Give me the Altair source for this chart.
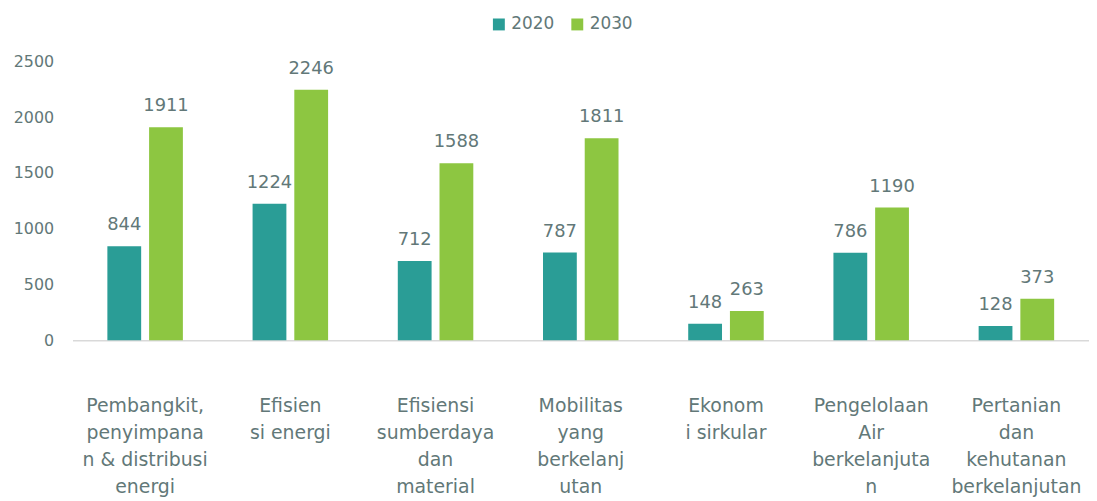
import altair as alt
import pandas as pd

categories = [
    "Pembangkit,|penyimpana|n & distribusi|energi",
    "Efisien|si energi",
    "Efisiensi|sumberdaya|dan|material",
    "Mobilitas|yang|berkelanj|utan",
    "Ekonom|i sirkular",
    "Pengelolaan|Air|berkelanjuta|n",
    "Pertanian|dan|kehutanan|berkelanjutan",
]
years = ["2020", "2030"]
values_2020 = [844, 1224, 712, 787, 148, 786, 128]
values_2030 = [1911, 2246, 1588, 1811, 263, 1190, 373]
colors = ["#2A9D96", "#8DC641"]

rows = []
for c, v1, v2 in zip(categories, values_2020, values_2030):
    rows.append({"cat": c, "year": "2020", "value": v1})
    rows.append({"cat": c, "year": "2030", "value": v2})
df = pd.DataFrame(rows)

TXT = "#627878"
FONT = "DejaVu Sans"

x = alt.X("cat:N", sort=categories, title=None,
          scale=alt.Scale(paddingInner=0.48, paddingOuter=0.24),
          axis=alt.Axis(labelExpr="split(datum.label, '|')", labelAngle=0,
                        labelFontSize=19, labelColor=TXT, labelFont=FONT,
                        labelLineHeight=27, labelPadding=57, labelBaseline="top",
                        ticks=False, domainColor="#D9D9D9", domainWidth=1.5,
                        labelLimit=200))
xo = alt.XOffset("year:N", sort=years,
                 scale=alt.Scale(paddingInner=0.19, paddingOuter=0))
y = alt.Y("value:Q", title=None,
          scale=alt.Scale(domain=[0, 2500], nice=False),
          axis=alt.Axis(values=[0, 500, 1000, 1500, 2000, 2500], grid=False,
                        format="d",
                        domain=False, ticks=False, labelFontSize=16,
                        labelColor=TXT, labelFont=FONT, labelPadding=19))
color = alt.Color("year:N", sort=years, title=None,
                  scale=alt.Scale(domain=years, range=colors),
                  legend=alt.Legend(orient="none", legendX=421, legendY=-46,
                                    direction="horizontal", symbolType="square",
                                    symbolSize=144, symbolStrokeWidth=0,
                                    labelFontSize=17, labelColor=TXT,
                                    labelFont=FONT,
                                    columnPadding=14, labelOffset=4))

bars = alt.Chart(df).mark_bar().encode(x=x, xOffset=xo, y=y, color=color)
labels = alt.Chart(df).mark_text(dy=-12, baseline="bottom", fontSize=18,
                                 color=TXT, font=FONT).encode(
    x=alt.X("cat:N", sort=categories), xOffset=xo, y="value:Q",
    text="value:Q")

chart = alt.layer(bars, labels).properties(
    width=1024, height=281,
    autosize=alt.AutoSizeParams(type="none"),
    padding={"left": 65, "top": 52, "right": 0, "bottom": 160},
).configure_view(stroke=None)

chart.save("out.html", embed_options={"renderer": "svg", "actions": False})
